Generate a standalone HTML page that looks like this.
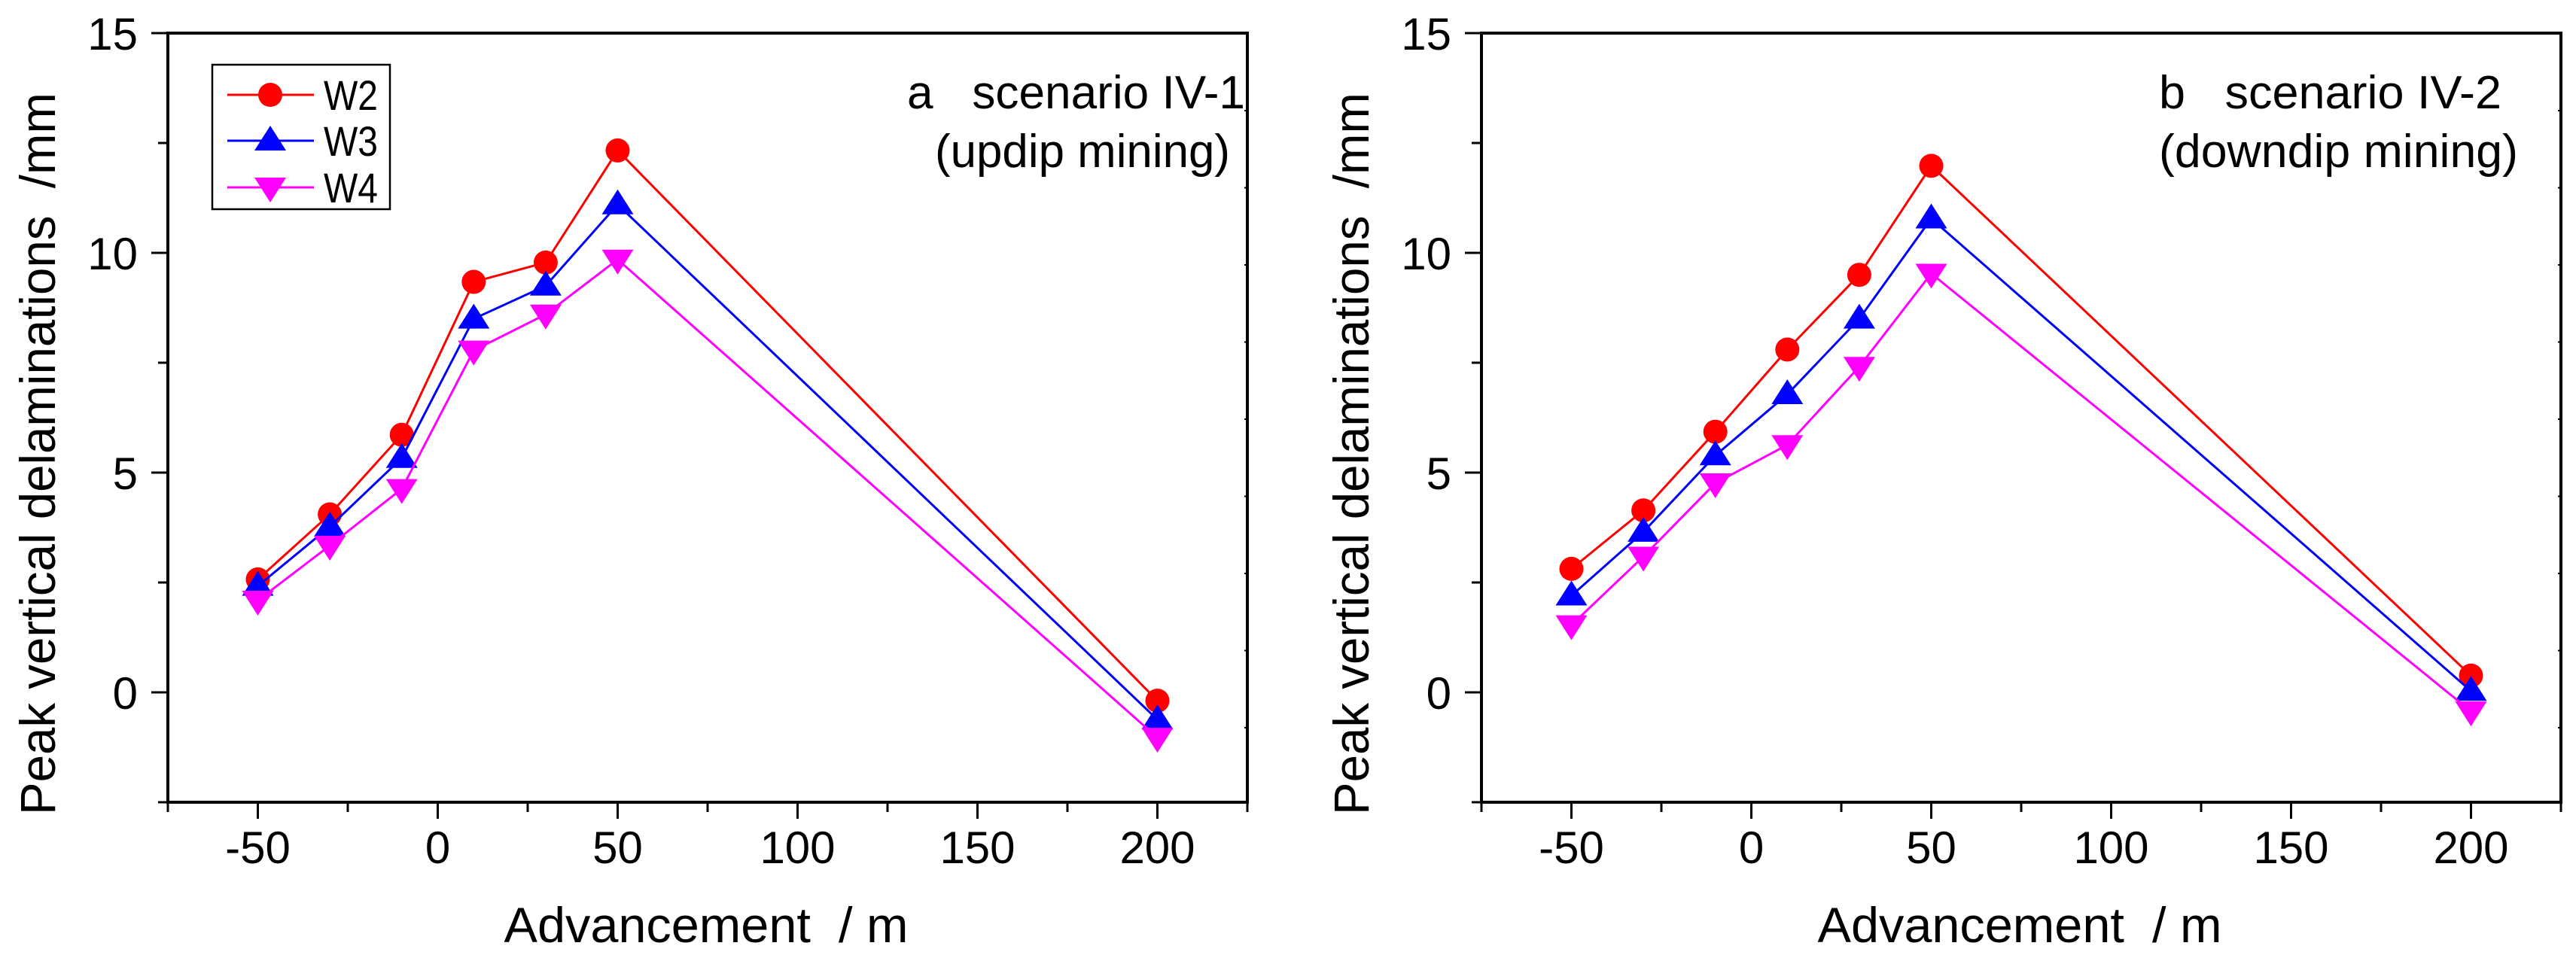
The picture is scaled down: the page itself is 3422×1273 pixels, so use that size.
<!DOCTYPE html>
<html><head><meta charset="utf-8"><style>
html,body{margin:0;padding:0;background:#fff;}
svg{display:block;font-family:"Liberation Sans",Arial,sans-serif;}
text{white-space:pre;}
</style></head><body>
<svg id="chart" width="3422" height="1273" viewBox="0 0 3422 1273" xmlns="http://www.w3.org/2000/svg"></svg>
<script>
const xValues = [-50, -30, -10, 10, 30, 50, 200];
const seriesNames = ["W2", "W3", "W4"];
const aW2 = [2.57, 4.05, 5.86, 9.34, 9.78, 12.33, -0.19];
const aW3 = [2.42, 3.77, 5.33, 8.5, 9.25, 11.1, -0.62];
const aW4 = [2.09, 3.34, 4.63, 7.78, 8.6, 9.85, -1.03];
const bW2 = [2.81, 4.14, 5.93, 7.8, 9.5, 11.98, 0.38];
const bW3 = [2.2, 3.65, 5.39, 6.78, 8.5, 10.78, 0.03];
const bW4 = [1.53, 3.09, 4.76, 5.63, 7.41, 9.53, -0.43];
const xTicks = [-50, 0, 50, 100, 150, 200];
const yTicks = [0, 5, 10, 15];

const NS = "http://www.w3.org/2000/svg";
const svg = document.getElementById("chart");
function mk(tag, attrs, parent) {
  const e = document.createElementNS(NS, tag);
  for (const k in attrs) e.setAttribute(k, attrs[k]);
  (parent || svg).appendChild(e);
  return e;
}
const colors = ["#ff0000", "#0000ff", "#ff00ff"];
const markers = ["circle", "up", "down"];

function marker(g, type, cx, cy, color) {
  let m;
  if (type === "circle") {
    m = mk("circle", {cx: cx, cy: cy, r: 16, fill: color}, g);
  } else if (type === "up") {
    m = mk("polygon", {points: `${cx-21},${cy+13} ${cx+21},${cy+13} ${cx},${cy-20}`, fill: color}, g);
  } else {
    m = mk("polygon", {points: `${cx-21},${cy-13} ${cx+21},${cy-13} ${cx},${cy+20}`, fill: color}, g);
  }
  return m;
}

function panel(id, L, data, ann, showLegend) {
  const R = L + 1434, T = 44, B = 1066;
  const xmin = -75, xmax = 225, ymin = -2.5, ymax = 15;
  const sx = v => L + (v - xmin) / (xmax - xmin) * (R - L);
  const sy = v => B - (v - ymin) / (ymax - ymin) * (B - T);
  const g = mk("g", {});
  
  

  const frame = mk("rect", {x: L, y: T, width: R - L, height: B - T, fill: "none", stroke: "#000", "stroke-width": 4}, g);
  
  

  for (let v = -75; v <= 225; v += 25) {
    const major = (v % 50 === 0);
    const t = mk("line", {x1: sx(v), x2: sx(v), y1: B, y2: B + (major ? 22 : 13), stroke: "#000", "stroke-width": 3}, g);
    
    
  }
  xTicks.forEach(v => {
    const t = mk("text", {x: sx(v), y: 1147, "font-size": 60, "text-anchor": "middle"}, g);
    t.textContent = String(v);
    
    
  });
  for (let v = -2.5; v <= 15; v += 2.5) {
    const major = (Math.abs(v % 5) < 1e-9);
    const t = mk("line", {x1: L - (major ? 22 : 13), x2: L, y1: sy(v), y2: sy(v), stroke: "#000", "stroke-width": 3}, g);
    
    
  }
  for (let y = 147; y < B; y += 102.5) {
    const t = mk("line", {x1: R - 4, x2: R, y1: y, y2: y, stroke: "#000", "stroke-width": 2}, g);
    
    
  }
  yTicks.forEach(v => {
    const t = mk("text", {x: L - 40, y: sy(v) + 22, "font-size": 60, "text-anchor": "end"}, g);
    t.textContent = String(v);
    
    
  });
  const xt = mk("text", {x: L + 715, y: 1252, "font-size": 66, "text-anchor": "middle", textLength: 537, lengthAdjust: "spacingAndGlyphs"}, g);
  xt.textContent = "Advancement  / m";
  
  
  const yx = L - 150, yc = 603;
  const yt = mk("text", {x: yx, y: yc, "font-size": 66, "text-anchor": "middle", transform: `rotate(-90 ${yx} ${yc})`, textLength: 960, lengthAdjust: "spacingAndGlyphs"}, g);
  yt.textContent = "Peak vertical delaminations  /mm";
  
  

  data.forEach((vals, si) => {
    const sg = mk("g", {}, g);
    
    
    const pts = vals.map((v, i) => sx(xValues[i]) + "," + sy(v)).join(" ");
    const line = mk("polyline", {points: pts, fill: "none", stroke: colors[si], "stroke-width": 3}, sg);
    
    
    vals.forEach((v, i) => {
      const m = marker(sg, markers[si], sx(xValues[i]), sy(v), colors[si]);
      
      
    });
  });

  ann.forEach(a => {
    const t = mk("text", {x: a.x, y: a.y, "font-size": 62, "text-anchor": a.anchor, textLength: a.len, lengthAdjust: "spacingAndGlyphs"}, g);
    t.textContent = a.text;
    
    
  });

  if (showLegend) {
    const lg = mk("g", {}, g);
    
    
    const box = mk("rect", {x: 282, y: 86, width: 236, height: 192, fill: "#fff", stroke: "#000", "stroke-width": 2.5}, lg);
    
    
    const rows = [126, 187, 249];
    seriesNames.forEach((n, si) => {
      const eg = mk("g", {}, lg);
      
      
      mk("line", {x1: 302, x2: 417, y1: rows[si], y2: rows[si], stroke: colors[si], "stroke-width": 3}, eg);
      marker(eg, markers[si], 359, rows[si], colors[si]);
      const t = mk("text", {x: 430, y: rows[si] + 20, "font-size": 56, textLength: 72, lengthAdjust: "spacingAndGlyphs"}, eg);
      t.textContent = n;
    });
  }
}

panel("a", 223, [aW2, aW3, aW4], [
  {x: 1654, y: 144, anchor: "end", text: "a   scenario IV-1", len: 449},
  {x: 1634, y: 222, anchor: "end", text: "(updip mining)", len: 392}
], true);
panel("b", 1968, [bW2, bW3, bW4], [
  {x: 2868, y: 144, anchor: "start", text: "b   scenario IV-2", len: 455},
  {x: 2868, y: 222, anchor: "start", text: "(downdip mining)", len: 477}
], false);
</script>
</body></html>
